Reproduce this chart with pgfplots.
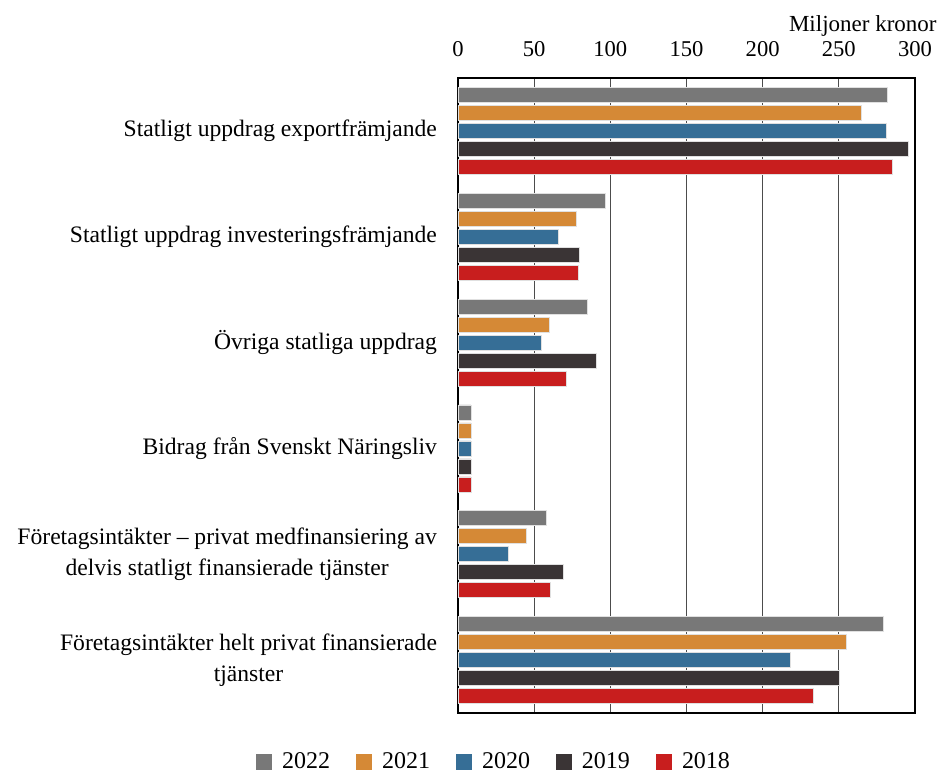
\documentclass[border=0pt]{standalone}
\usepackage{fontspec}
\setmainfont{Liberation Serif}
\usepackage{pgfplots}
\pgfplotsset{compat=1.18}
\definecolor{c22}{HTML}{787878}
\definecolor{c21}{HTML}{D58936}
\definecolor{c20}{HTML}{366E96}
\definecolor{c19}{HTML}{3A3435}
\definecolor{c18}{HTML}{C81E1E}
\begin{document}
\begin{tikzpicture}
\path[use as bounding box] (-229pt,-30pt) rectangle (240.5pt,356.5pt);
\begin{axis}[
  at={(0pt,0pt)}, anchor=south west,
  scale only axis, width=228.5pt, height=317.5pt,
  xbar=1.5pt, bar width=7.5pt,
  xmin=0, xmax=300, ymin=-0.5, ymax=5.5, y dir=reverse,
  xtick={0,50,...,300}, xticklabel pos=right,
  ytick={0,1,2,3,4,5},
  yticklabels={Statligt uppdrag exportfrämjande, Statligt uppdrag investeringsfrämjande, Övriga statliga uppdrag, Bidrag från Svenskt Näringsliv, {Företagsintäkter – privat medfinansiering av\\delvis statligt finansierade tjänster}, {Företagsintäkter helt privat finansierade\\tjänster}},
  major tick length=0pt,
  xmajorgrids, major grid style={black!70, line width=0.6pt},
  axis line style={black, line width=0.7pt},
  /pgf/number format/assume math mode=true,
  xticklabel style={yshift=7pt, font=\fontsize{11.3pt}{13pt}\selectfont},
  yticklabel style={align=center, xshift=-7pt, font=\fontsize{11.8pt}{15.5pt}\selectfont},
  every axis plot/.append style={draw=black!12, line width=0.4pt},
  legend columns=5,
  legend style={draw=none, at={(0.081,-0.077)}, anchor=center, font=\fontsize{12pt}{14pt}\selectfont,
    /tikz/every even column/.append style={column sep=11pt}},
  legend image code/.code={\path[draw=none,fill=none] (0pt,0pt) -- (11pt,0pt);\fill[#1,draw=none] (0pt,-4pt) rectangle (8pt,4pt);},
]
\addplot[fill=c22, bar shift=18pt] coordinates {(282,0) (97,1) (85,2) (8.5,3) (58,4) (279,5)};
\addplot[fill=c21, bar shift=9pt] coordinates {(264.5,0) (78,1) (60,2) (8.5,3) (45,4) (255,5)};
\addplot[fill=c20, bar shift=0pt] coordinates {(281,0) (66,1) (55,2) (8.5,3) (33,4) (218.5,5)};
\addplot[fill=c19, bar shift=-9pt] coordinates {(295.5,0) (80,1) (91,2) (8.5,3) (69,4) (250.5,5)};
\addplot[fill=c18, bar shift=-18pt] coordinates {(285.5,0) (79,1) (71,2) (8.5,3) (60.5,4) (233.5,5)};
\legend{2022,2021,2020,2019,2018}
\end{axis}
\node[anchor=base east, font=\fontsize{11.5pt}{13pt}\selectfont, inner sep=0pt] at (239.5pt,340.5pt) {Miljoner kronor};
\end{tikzpicture}
\end{document}
